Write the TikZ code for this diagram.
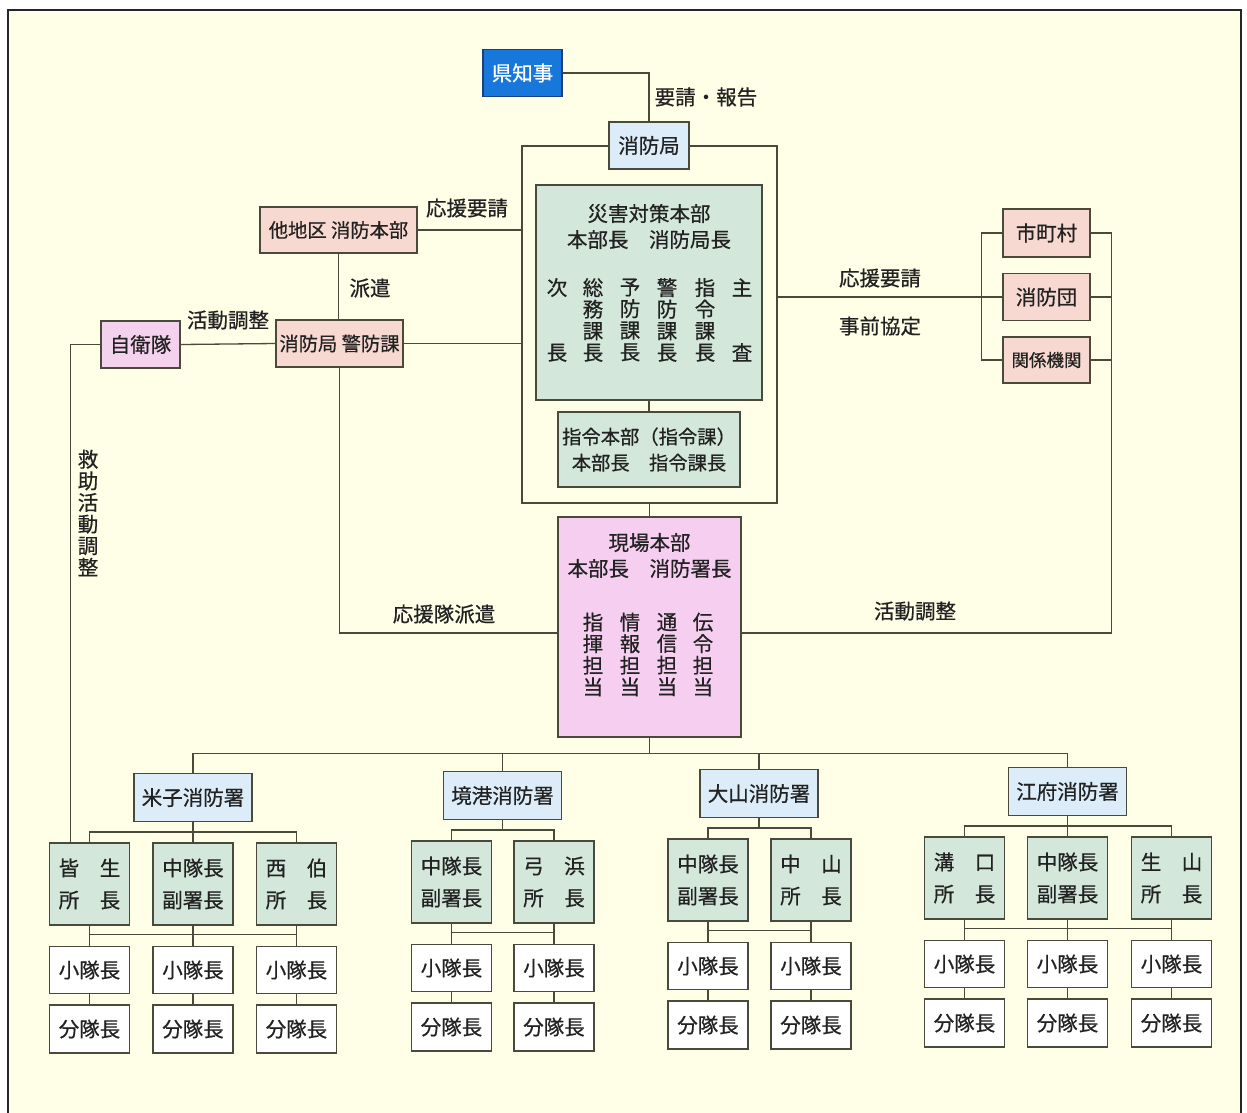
\documentclass[tikz,border=0pt]{standalone}
\usepackage{fontspec}
\setmainfont{Noto Sans CJK JP}[FakeBold=0.6]
\usetikzlibrary{calc}
\definecolor{bg}{HTML}{FFFEE6}
\definecolor{lc}{HTML}{4A4A3C}
\definecolor{tc}{HTML}{222222}
\definecolor{kblue}{HTML}{1877DA}
\definecolor{kborder}{HTML}{1E3F7A}
\definecolor{lblue}{HTML}{DCEDF9}
\definecolor{lgreen}{HTML}{D3E8DB}
\definecolor{salmon}{HTML}{F7D9D1}
\definecolor{pinkb}{HTML}{F6CFF0}
\definecolor{pinkj}{HTML}{F4D2EE}
\newcommand\myfs{\fontsize{20.5}{32}\selectfont}
\newcommand\mysfs{\fontsize{19.3}{26}\selectfont}
\newcommand\myhfs{\fontsize{20.5}{26}\selectfont\lineskiplimit=-20pt\relax}
\newcommand\mycolfs{\fontsize{20.5}{21.6}\selectfont\lineskiplimit=-20pt\lineskip=0pt\relax}
\tikzset{
  bx/.style={draw=lc, line width=1.2pt, inner sep=0pt, text=tc, font=\myfs, align=center},
  ln/.style={draw=lc, line width=1.3pt},
  lbl/.style={inner sep=0pt, text=tc, font=\myfs},
  colt/.style={inner sep=0pt, text=tc, font=\mycolfs, align=center},
  hdr/.style={inner sep=0pt, text=tc, font=\myhfs, align=center},
}
\newcommand\myunit[4]{%
  \node[bx, fill=lgreen, minimum width=80, minimum height=82] (r#1) at (#2,#3) {#4};
  \node[bx, fill=white, minimum width=80, minimum height=47] (s#1) at ($(r#1)+(0,86)$) {小隊長};
  \node[bx, fill=white, minimum width=80, minimum height=48] (f#1) at ($(s#1)+(0,59)$) {分隊長};
  \draw[ln] (r#1.south) -- (s#1.north);
  \draw[ln] (s#1.south) -- (f#1.north);
}
\begin{document}
\begin{tikzpicture}[x=1pt,y=-1pt]
\useasboundingbox (0,0) rectangle (1247,1112);
\clip (0,0) rectangle (1247,1112);
\fill[white] (0,0) rectangle (1247,1112);
\draw[fill=bg, draw=black!85, line width=2pt] (8,10) rectangle (1241,1140);

% enclosure
\node[draw=lc, line width=1.3pt, minimum width=255, minimum height=357, inner sep=0pt] (encl) at (649.5,324.5) {};

% top
\node[bx, fill=kblue, draw=kborder, text=white, minimum width=79, minimum height=47] (kenchiji) at (522.5,73) {県知事};
\node[bx, fill=lblue, minimum width=80, minimum height=47] (kyoku) at (649,145.5) {消防局};
\draw[ln] (kenchiji.east) -| (kyoku.north);
\node[lbl] (l1) at (706,97) {要請・報告};

% disaster HQ
\node[bx, fill=lgreen, minimum width=226, minimum height=215] (saigai) at (649,292.5) {};
\node[hdr] (sh) at (649,226.5) {災害対策本部\\本部長　消防局長};
\node[colt] (c1) at (557,320) {次\\\phantom{長}\\\phantom{長}\\長};
\node[colt] (c2) at (593,320) {総\\務\\課\\長};
\node[colt] (c3) at (630,320) {予\\防\\課\\長};
\node[colt] (c4) at (667,320) {警\\防\\課\\長};
\node[colt] (c5) at (705,320) {指\\令\\課\\長};
\node[colt] (c6) at (742,320) {主\\\phantom{査}\\\phantom{査}\\査};

\node[bx, fill=lgreen, minimum width=182, minimum height=75, font=\mysfs] (shirei) at (649,449.5) {指令本部（指令課）\\本部長　指令課長};
\draw[ln] (saigai.south) -- (shirei.north);

% field HQ
\node[bx, fill=pinkb, minimum width=183, minimum height=220] (genba) at (649.5,627) {};
\node[hdr] (gh) at (649.5,555.5) {現場本部\\本部長　消防署長};
\node[colt] (g1) at (593,654.5) {指\\揮\\担\\当};
\node[colt] (g2) at (630,654.5) {情\\報\\担\\当};
\node[colt] (g3) at (667,654.5) {通\\信\\担\\当};
\node[colt] (g4) at (703,654.5) {伝\\令\\担\\当};
\draw[ln] (encl.south) -- (genba.north);

% left side
\node[bx, fill=salmon, minimum width=157, minimum height=46, font=\mysfs] (tachiku) at (338.5,230) {他地区 消防本部};
\node[bx, fill=salmon, minimum width=127, minimum height=47, font=\mysfs] (keibo) at (339.5,343.5) {消防局 警防課};
\node[bx, fill=pinkj, minimum width=79, minimum height=47] (jieitai) at (140.5,344.5) {自衛隊};
\draw[ln] (tachiku.east) -- (encl.west |- tachiku.east);
\node[lbl] (l2) at (467,208) {応援要請};
\draw[ln] (tachiku.south) -- (tachiku.south |- keibo.north);
\node[lbl] (l3) at (370,288) {派遣};
\draw[ln] (keibo.east) -- (encl.west |- keibo.east);
\draw[ln] (jieitai.east) -- (keibo.west);
\node[lbl] (l4) at (228,320) {活動調整};
\draw[ln] (keibo.south) |- ([yshift=-6pt]genba.west);
\node[lbl] (l5) at (444,614) {応援隊派遣};

% right side
\node[bx, fill=salmon, minimum width=87, minimum height=48] (shichoson) at (1046.5,233) {市町村};
\node[bx, fill=salmon, minimum width=87, minimum height=47] (shobodan) at (1046.5,297) {消防団};
\node[bx, fill=salmon, minimum width=87, minimum height=46, font=\fontsize{17.5}{20}\selectfont] (kankei) at (1046.5,360) {関係機関};
\draw[ln] (encl.east |- shobodan.west) -- (shobodan.west);
\draw[ln] (shichoson.west) -| ([xshift=-21pt]kankei.west) -- (kankei.west);
\draw[ln] (shichoson.east) -- ++(21,0) |- ([yshift=-6pt]genba.east);
\draw[ln] (shobodan.east) -- ++(21,0);
\draw[ln] (kankei.east) -- ++(21,0);
\node[lbl] (l6) at (880,278) {応援要請};
\node[lbl] (l7) at (880,326) {事前協定};
\node[lbl] (l8) at (915,611) {活動調整};

% stations
\node[bx, fill=lblue, minimum width=118, minimum height=48] (yonago) at (193,797.5) {米子消防署};
\node[bx, fill=lblue, minimum width=118, minimum height=48] (sakai) at (502.5,795.5) {境港消防署};
\node[bx, fill=lblue, minimum width=118, minimum height=48] (daisen) at (759,793.5) {大山消防署};
\node[bx, fill=lblue, minimum width=118, minimum height=48] (kofu) at (1067.5,791.5) {江府消防署};
\coordinate (GB) at ($(genba.south)+(0,16)$);
\draw[ln] (genba.south) -- (GB);
\draw[ln] (yonago.north) |- (GB);
\draw[ln] (sakai.north) |- (GB);
\draw[ln] (daisen.north) |- (GB);
\draw[ln] (kofu.north) |- (GB);

% Yonago group
\myunit{Y1}{89.5}{884}{皆　生\\所　長}
\myunit{Y2}{193}{884}{中隊長\\副署長}
\myunit{Y3}{296.5}{884}{西　伯\\所　長}
\coordinate (YB) at ($(yonago.south)+(0,10)$);
\draw[ln] (yonago.south) -- (rY2.north);
\draw[ln] (rY1.north) |- (YB);
\draw[ln] (rY3.north) |- (YB);
\draw[ln] ([yshift=11.5pt]sY1.north) -- ([yshift=11.5pt]sY3.north);

% Sakaiminato group
\myunit{S1}{451.5}{882}{中隊長\\副署長}
\myunit{S2}{554}{882}{弓　浜\\所　長}
\coordinate (SB) at ($(sakai.south)+(0,10)$);
\draw[ln] (sakai.south) -- (SB);
\draw[ln] (rS1.north) |- (SB);
\draw[ln] (rS2.north) |- (SB);
\draw[ln] ([yshift=11.5pt]sS1.north) -- ([yshift=11.5pt]sS2.north);

% Daisen group
\myunit{D1}{708}{880}{中隊長\\副署長}
\myunit{D2}{811}{880}{中　山\\所　長}
\coordinate (DB) at ($(daisen.south)+(0,10)$);
\draw[ln] (daisen.south) -- (DB);
\draw[ln] (rD1.north) |- (DB);
\draw[ln] (rD2.north) |- (DB);
\draw[ln] ([yshift=11.5pt]sD1.north) -- ([yshift=11.5pt]sD2.north);

% Kofu group
\myunit{K1}{964.5}{878}{溝　口\\所　長}
\myunit{K2}{1067.5}{878}{中隊長\\副署長}
\myunit{K3}{1171.5}{878}{生　山\\所　長}
\coordinate (KB) at ($(kofu.south)+(0,10)$);
\draw[ln] (kofu.south) -- (rK2.north);
\draw[ln] (rK1.north) |- (KB);
\draw[ln] (rK3.north) |- (KB);
\draw[ln] ([yshift=11.5pt]sK1.north) -- ([yshift=11.5pt]sK3.north);

% rescue coordination
\draw[ln] (jieitai.west) -| ([xshift=-19pt]rY1.north);
\node[colt] (l9) at (88,513) {救\\助\\活\\動\\調\\整};
\end{tikzpicture}
\end{document}
